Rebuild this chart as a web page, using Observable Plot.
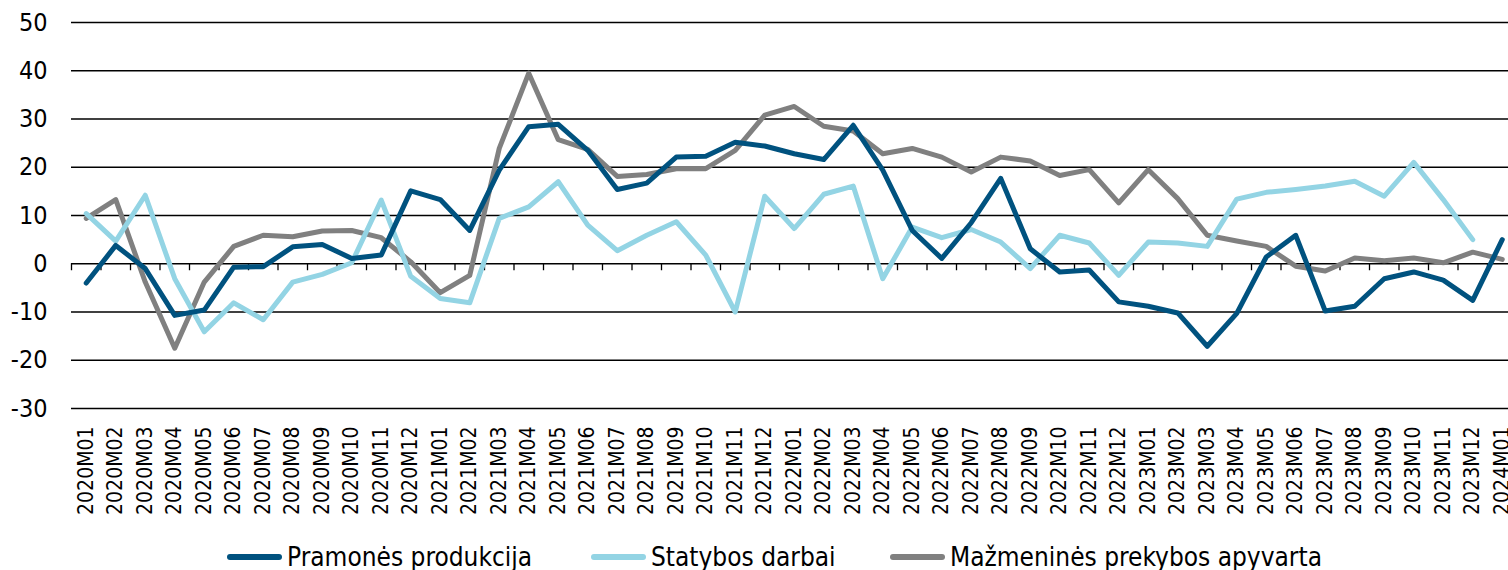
<!DOCTYPE html>
<html><head><meta charset="utf-8">
<script src="https://cdn.jsdelivr.net/npm/d3@7"></script>
<script src="https://cdn.jsdelivr.net/npm/@observablehq/plot@0.6"></script>
<style>
body{margin:0;background:#fff;overflow:hidden;width:1508px;height:570px}
#chart svg{display:block}
#legend{position:relative;height:40px;width:1508px;font-family:"DejaVu Sans Condensed","DejaVu Sans",sans-serif;font-stretch:condensed;font-size:26px;color:#000}
.item{position:absolute;top:12px;display:flex;align-items:center;height:30px;white-space:nowrap}
.sw{width:55px;height:6px;border-radius:3px;margin-right:5px}
</style></head><body>
<div id="chart"></div><div id="legend"></div>
<script>
const months = ["2020M01","2020M02","2020M03","2020M04","2020M05","2020M06","2020M07","2020M08","2020M09","2020M10","2020M11","2020M12",
"2021M01","2021M02","2021M03","2021M04","2021M05","2021M06","2021M07","2021M08","2021M09","2021M10","2021M11","2021M12",
"2022M01","2022M02","2022M03","2022M04","2022M05","2022M06","2022M07","2022M08","2022M09","2022M10","2022M11","2022M12",
"2023M01","2023M02","2023M03","2023M04","2023M05","2023M06","2023M07","2023M08","2023M09","2023M10","2023M11","2023M12",
"2024M01"];
const seriesNames = ["Pramonės produkcija","Statybos darbai","Mažmeninės prekybos apyvarta"];
const seriesColors = ["#00527f","#93d4e4","#808080"];
const pramones = [-4.0,3.8,-1.0,-10.7,-9.6,-0.7,-0.6,3.5,4.0,1.1,1.8,15.1,13.3,6.9,19.4,28.4,28.9,23.5,15.4,16.7,22.1,22.3,25.2,24.4,22.8,21.6,28.7,19.4,6.9,1.1,8.5,17.7,3.1,-1.7,-1.3,-7.9,-8.8,-10.2,-17.1,-10.3,1.4,5.9,-9.8,-8.8,-3.1,-1.7,-3.4,-7.6,5.0];
const statybos = [10.4,4.7,14.2,-3.1,-14.1,-8.1,-11.6,-3.8,-2.2,0.2,13.2,-2.6,-7.2,-8.1,9.4,11.8,17.0,8.0,2.7,5.9,8.7,1.8,-10.0,14.0,7.3,14.4,16.1,-3.1,7.6,5.4,7.1,4.5,-1.0,5.9,4.3,-2.4,4.5,4.3,3.6,13.4,14.8,15.4,16.1,17.1,14.0,21.0,13.3,5.0,null];
const mazmenines = [9.4,13.3,-3.8,-17.5,-3.8,3.6,5.9,5.6,6.8,6.9,5.4,0.4,-6.0,-2.4,23.9,39.5,25.7,23.7,18.1,18.5,19.7,19.7,23.5,30.8,32.6,28.5,27.5,22.8,23.9,22.1,19.0,22.1,21.3,18.3,19.5,12.6,19.5,13.5,5.9,4.7,3.6,-0.5,-1.5,1.2,0.6,1.2,0.2,2.4,0.9];
const yTicks = [-30,-20,-10,0,10,20,30,40,50];

const seriesValues = [pramones, statybos, mazmenines];
const rows = [];
// draw order: gray, light blue, dark blue on top
[2,1,0].forEach(s => seriesValues[s].forEach((v,i) => { if (v != null) rows.push({i, v, s: seriesNames[s]}); }));
const boundaries = d3.range(months.length + 1).map(k => k - 0.5);
const font = '"DejaVu Sans Condensed","DejaVu Sans",sans-serif';
const band = 29.5;

const plot = Plot.plot({
  width: 1508, height: 530,
  marginTop: 22, marginBottom: 122, marginLeft: 71, marginRight: 0,
  style: {fontFamily: font, fontStretch: "condensed", color: "#000", background: "#fff", overflow: "hidden", maxWidth: "none"},
  x: {type: "linear", domain: [-0.5, months.length - 0.5], range: [71, 71 + band * months.length], axis: null},
  y: {domain: [-30, 50], axis: null},
  color: {domain: seriesNames, range: seriesColors},
  marks: [
    Plot.ruleY(yTicks, {stroke: "#000", strokeWidth: 1.3}),
    Plot.ruleX(boundaries, {x: d => d, y1: 0, y2: -1.45, stroke: "#000", strokeWidth: 1.3}),
    Plot.axisY(yTicks, {tickSize: 0, tickPadding: 24, fontSize: 25, label: null, tickFormat: d => String(d)}),
    Plot.axisX(d3.range(months.length), {tickFormat: i => months[i], tickRotate: -90, tickSize: 0, tickPadding: 18, fontSize: 21, label: null}),
    Plot.line(rows, {x: "i", y: "v", z: "s", stroke: "s", strokeWidth: 5, strokeLinejoin: "round", strokeLinecap: "round"})
  ]
});
document.getElementById("chart").appendChild(plot);

const legend = document.getElementById("legend");
const legendLeft = [227, 591, 890];
seriesNames.forEach((n, k) => {
  const it = document.createElement("div");
  it.className = "item";
  it.style.left = legendLeft[k] + "px";
  const sw = document.createElement("span");
  sw.className = "sw";
  sw.style.background = seriesColors[k];
  const tx = document.createElement("span");
  tx.textContent = n;
  it.appendChild(sw); it.appendChild(tx);
  legend.appendChild(it);
});
</script>
</body></html>
